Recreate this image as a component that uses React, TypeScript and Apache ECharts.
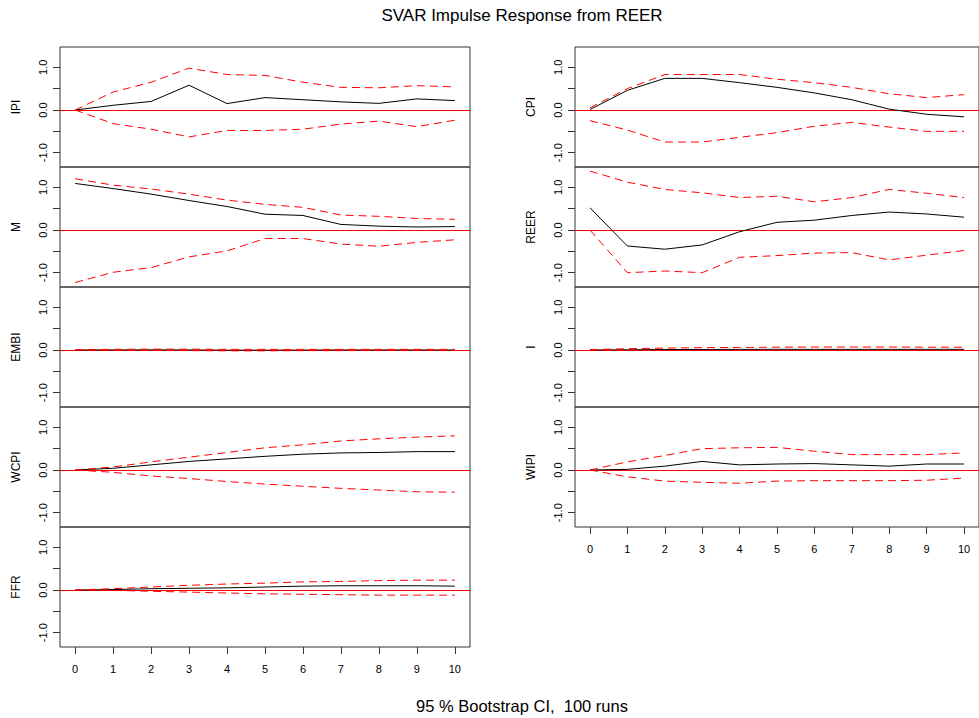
import React, { useEffect, useRef } from "react";
import * as echarts from "echarts";

const horizons = [0, 1, 2, 3, 4, 5, 6, 7, 8, 9, 10];
const yTickValues = [-1, -0.5, 0, 0.5, 1];
const yLabelValues = [-1, 0, 1];

const ipiResp = [0, 0.11, 0.2, 0.58, 0.15, 0.29, 0.24, 0.19, 0.155, 0.26, 0.22];
const ipiUpper = [0, 0.42, 0.65, 0.98, 0.83, 0.81, 0.65, 0.53, 0.52, 0.57, 0.54];
const ipiLower = [0, -0.32, -0.45, -0.63, -0.48, -0.48, -0.45, -0.33, -0.26, -0.39, -0.24];

const cpiResp = [0.01, 0.46, 0.74, 0.74, 0.64, 0.53, 0.4, 0.24, 0.02, -0.1, -0.16];
const cpiUpper = [0.05, 0.5, 0.83, 0.83, 0.83, 0.72, 0.64, 0.53, 0.38, 0.29, 0.36];
const cpiLower = [-0.25, -0.47, -0.75, -0.75, -0.64, -0.53, -0.38, -0.29, -0.4, -0.5, -0.5];

const mResp = [1.09, 0.97, 0.84, 0.69, 0.55, 0.37, 0.34, 0.13, 0.09, 0.07, 0.08];
const mUpper = [1.2, 1.05, 0.96, 0.84, 0.7, 0.6, 0.53, 0.35, 0.32, 0.27, 0.25];
const mLower = [-1.23, -0.99, -0.88, -0.63, -0.49, -0.2, -0.2, -0.33, -0.38, -0.29, -0.23];

const reerResp = [0.52, -0.375, -0.45, -0.35, -0.04, 0.18, 0.23, 0.34, 0.42, 0.375, 0.3];
const reerUpper = [1.38, 1.12, 0.95, 0.87, 0.76, 0.79, 0.66, 0.76, 0.95, 0.86, 0.76];
const reerLower = [0, -1.0, -0.96, -1.0, -0.64, -0.6, -0.54, -0.53, -0.7, -0.59, -0.48];

const embiResp = [0, 0.002, 0.003, 0, -0.005, -0.005, -0.003, 0, 0, 0, 0];
const embiUpper = [0.005, 0.015, 0.02, 0.02, 0.015, 0.015, 0.015, 0.015, 0.015, 0.015, 0.015];
const embiLower = [0, -0.01, -0.01, -0.015, -0.02, -0.02, -0.015, -0.015, -0.01, -0.01, -0.01];

const iResp = [0, 0.005, 0.01, 0.012, 0.014, 0.015, 0.015, 0.015, 0.015, 0.015, 0.015];
const iUpper = [0.01, 0.03, 0.045, 0.055, 0.06, 0.065, 0.07, 0.07, 0.07, 0.065, 0.065];
const iLower = [0, -0.005, -0.01, -0.01, -0.01, -0.01, -0.01, -0.01, -0.01, -0.01, -0.01];

const wcpiResp = [0, 0.04, 0.12, 0.2, 0.26, 0.32, 0.37, 0.4, 0.41, 0.43, 0.43];
const wcpiUpper = [0, 0.07, 0.19, 0.3, 0.41, 0.52, 0.59, 0.68, 0.73, 0.77, 0.8];
const wcpiLower = [0, -0.055, -0.14, -0.2, -0.27, -0.33, -0.38, -0.43, -0.47, -0.51, -0.52];

const wipiResp = [0, 0.015, 0.09, 0.2, 0.12, 0.14, 0.15, 0.12, 0.09, 0.14, 0.14];
const wipiUpper = [0, 0.19, 0.34, 0.5, 0.52, 0.53, 0.44, 0.36, 0.36, 0.36, 0.4];
const wipiLower = [0, -0.16, -0.26, -0.29, -0.31, -0.26, -0.25, -0.25, -0.25, -0.24, -0.19];

const ffrResp = [0, 0.01, 0.03, 0.04, 0.05, 0.07, 0.09, 0.1, 0.1, 0.1, 0.09];
const ffrUpper = [0, 0.03, 0.07, 0.11, 0.14, 0.16, 0.19, 0.2, 0.22, 0.23, 0.23];
const ffrLower = [0, -0.01, -0.03, -0.05, -0.07, -0.09, -0.1, -0.11, -0.12, -0.12, -0.12];

const panels = [
  { name: "IPI", resp: ipiResp, upper: ipiUpper, lower: ipiLower, col: 0, row: 0 },
  { name: "M", resp: mResp, upper: mUpper, lower: mLower, col: 0, row: 1 },
  { name: "EMBI", resp: embiResp, upper: embiUpper, lower: embiLower, col: 0, row: 2 },
  { name: "WCPI", resp: wcpiResp, upper: wcpiUpper, lower: wcpiLower, col: 0, row: 3 },
  { name: "FFR", resp: ffrResp, upper: ffrUpper, lower: ffrLower, col: 0, row: 4 },
  { name: "CPI", resp: cpiResp, upper: cpiUpper, lower: cpiLower, col: 1, row: 0 },
  { name: "REER", resp: reerResp, upper: reerUpper, lower: reerLower, col: 1, row: 1 },
  { name: "I", resp: iResp, upper: iUpper, lower: iLower, col: 1, row: 2 },
  { name: "WIPI", resp: wipiResp, upper: wipiUpper, lower: wipiLower, col: 1, row: 3 },
];

const FONT = "'Liberation Sans', Arial, Helvetica, sans-serif";
const X_MIN = -0.4;
const X_MAX = 10.4;

export default function App() {
  const ref = useRef<HTMLDivElement>(null);

  useEffect(() => {
    if (!ref.current) return;
    const chart = echarts.init(ref.current, undefined, { renderer: "svg" });
    const tops = [47, 167, 287, 407, 527];
    const heights = [120, 120, 120, 120, 120];
    const grids: any[] = [];
    const xAxes: any[] = [];
    const yAxes: any[] = [];
    const series: any[] = [];

    panels.forEach((p, i) => {
      const isBottom = (p.col === 0 && p.row === 4) || (p.col === 1 && p.row === 3);
      grids.push({
        left: p.col === 0 ? 60 : 575,
        width: 410,
        top: tops[p.row],
        height: heights[p.row],
        show: true,
        borderColor: "#333",
        borderWidth: 1,
        backgroundColor: "transparent",
      });
      // axis carrying the data and the red zero line (axis line at y = 0)
      xAxes.push({
        type: "value",
        gridIndex: i,
        min: X_MIN,
        max: X_MAX,
        position: "top",
        axisLine: { show: true, onZero: true, lineStyle: { color: "#ff0000", width: 1 } },
        splitLine: { show: false },
        axisTick: { show: false },
        axisLabel: { show: false },
        z: 1,
      });
      // axis carrying the ticks and labels at the bottom of the panel
      xAxes.push({
        type: "value",
        gridIndex: i,
        min: X_MIN,
        max: X_MAX,
        position: "bottom",
        axisLine: { show: false, onZero: false },
        splitLine: { show: false },
        axisTick: {
          show: isBottom,
          customValues: horizons,
          length: 7,
          lineStyle: { color: "#333" },
        },
        axisLabel: {
          show: isBottom,
          customValues: horizons,
          margin: 16,
          fontSize: 11,
          color: "#000",
          fontFamily: FONT,
        },
      });
      yAxes.push({
        type: "value",
        gridIndex: i,
        min: -1.335,
        max: 1.475,
        position: "left",
        name: p.name,
        nameLocation: "middle",
        nameGap: 38,
        nameRotate: 90,
        nameTextStyle: { fontSize: 12, color: "#000", fontFamily: FONT },
        axisLine: { show: false, onZero: false },
        splitLine: { show: false },
        axisTick: {
          show: true,
          customValues: yTickValues,
          length: 7,
          lineStyle: { color: "#333" },
        },
        axisLabel: {
          customValues: yLabelValues,
          rotate: 90,
          margin: 12,
          fontSize: 11,
          color: "#000",
          fontFamily: FONT,
          formatter: (v: number) => v.toFixed(1),
        },
      });
      const toData = (arr: number[]) => horizons.map((h, k) => [h, arr[k]]);
      series.push({
        type: "line",
        xAxisIndex: 2 * i,
        yAxisIndex: i,
        data: toData(p.resp),
        symbol: "none",
        color: "#000",
        lineStyle: { color: "#000", width: 1 },
        z: 11,
      });
      series.push({
        type: "line",
        xAxisIndex: 2 * i,
        yAxisIndex: i,
        data: toData(p.upper),
        symbol: "none",
        color: "#ff0000",
        lineStyle: { color: "#ff0000", width: 1, type: [8, 5] },
        z: 12,
      });
      series.push({
        type: "line",
        xAxisIndex: 2 * i,
        yAxisIndex: i,
        data: toData(p.lower),
        symbol: "none",
        color: "#ff0000",
        lineStyle: { color: "#ff0000", width: 1, type: [8, 5] },
        z: 12,
      });
    });

    chart.setOption({
      animation: false,
      textStyle: { fontFamily: FONT },
      graphic: [
        {
          type: "text",
          x: 522,
          y: 15,
          style: {
            text: "SVAR Impulse Response from REER",
            fontSize: 17,
            fill: "#000",
            fontFamily: FONT,
            textAlign: "center",
            textVerticalAlign: "middle",
          },
        },
        {
          type: "text",
          x: 522,
          y: 706,
          style: {
            text: "95 % Bootstrap CI,  100 runs",
            fontSize: 16.5,
            fill: "#000",
            fontFamily: FONT,
            textAlign: "center",
            textVerticalAlign: "middle",
          },
        },
      ],
      grid: grids,
      xAxis: xAxes,
      yAxis: yAxes,
      series,
    });
    return () => chart.dispose();
  }, []);

  return (
    <div
      ref={ref}
      style={{ position: "fixed", left: 0, top: 0, width: 979, height: 718, background: "#fff" }}
    />
  );
}
